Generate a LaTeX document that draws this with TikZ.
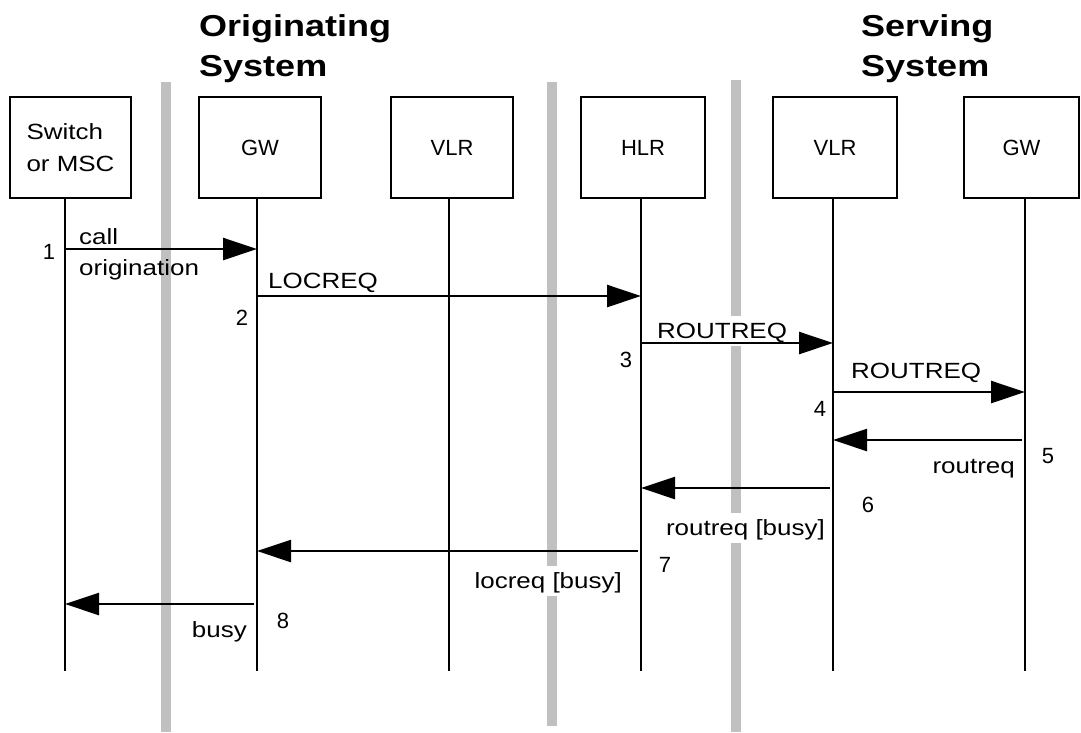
\documentclass[tikz,border=0pt]{standalone}
\usepackage{fontspec}
\usepackage{graphicx}
\setmainfont{Liberation Sans}
\usetikzlibrary{arrows.meta}
\definecolor{sepgray}{RGB}{192,192,192}
% message texts are set slightly wide
\newcommand{\wide}[1]{\scalebox{1.18}[1]{#1}}
\newcommand{\tall}[1]{\scalebox{1}[0.84]{#1}}

\begin{document}
\begin{tikzpicture}[x=1pt,y=-1pt,
  lbl/.style={inner sep=0pt, font=\fontsize{22}{26}\selectfont},
  entity/.style={draw, line width=2.5pt, minimum height=101pt, inner sep=0pt,
                 align=left, font=\fontsize{22}{32}\selectfont},
  life/.style={line width=2.5pt},
  sepbar/.style={line width=10pt, draw=sepgray},
  msg/.style={line width=2.5pt, -{Triangle[length=34pt,width=22pt]}},
  reply/.style={msg, shorten <=3pt},
  masked/.style={fill=white, inner xsep=4pt, inner ysep=4pt, text height=18pt, text depth=4pt},
  heading/.style={inner sep=0pt, anchor=base west, font=\fontsize{36}{40}\selectfont\bfseries}]

\useasboundingbox (0,0) rectangle (1081,732);

% system separators
\coordinate (s1t) at (166,82);  \coordinate (s1b) at (166,732);
\coordinate (s2t) at (552,82);  \coordinate (s2b) at (552,726);
\coordinate (s3t) at (736,80);  \coordinate (s3b) at (736,732);
\draw[sepbar] (s1t) -- (s1b);
\draw[sepbar] (s2t) -- (s2b);
\draw[sepbar] (s3t) -- (s3b);

% headings
\node[heading] (orig1) at (199,36) {\tall{Originating}};
\node[heading] (orig2) at (199,76) {\tall{System}};
\node[heading] (serv1) at (861,36) {\tall{Serving}};
\node[heading] (serv2) at (861,76) {\tall{System}};

% network entities
\node[entity, minimum width=121pt] (msc)  at (70.5,147.5) {\wide{Switch}\\\wide{or MSC}};
\node[entity, minimum width=122pt] (gwo)  at (260,147.5) {GW};
\node[entity, minimum width=122pt] (vlro) at (452,147.5) {VLR};
\node[entity, minimum width=124pt] (hlr)  at (643,147.5) {HLR};
\node[entity, minimum width=124pt] (vlrs) at (835,147.5) {VLR};
\node[entity, minimum width=115pt] (gws)  at (1021.5,147.5) {GW};

% lifelines
\coordinate (L1) at (65,198);   \coordinate (E1) at (65,671);
\coordinate (L2) at (257,198);  \coordinate (E2) at (257,671);
\coordinate (L3) at (449,198);  \coordinate (E3) at (449,671);
\coordinate (L4) at (641,198);  \coordinate (E4) at (641,671);
\coordinate (L5) at (833,198);  \coordinate (E5) at (833,671);
\coordinate (L6) at (1025,198); \coordinate (E6) at (1025,671);

% message labels (those crossing a separator blank it out)
\node[lbl, anchor=base west] (t1a) at (79,244) {\wide{call}};
\node[lbl, anchor=base west] (t1b) at (79,275) {\wide{origination}};
\node[lbl, anchor=base west] (t2) at (268,288) {\wide{LOCREQ}};
\node[lbl, masked, anchor=base west] (t3) at (653,338) {\wide{ROUTREQ}};
\node[lbl, anchor=base west] (t4) at (851,378) {\wide{ROUTREQ}};
\node[lbl, anchor=base east] (t5) at (1015,473) {\wide{routreq}};
\node[lbl, masked, anchor=base east] (t6) at (829,535) {\wide{routreq [busy]}};
\node[lbl, masked, anchor=base east] (t7) at (626,588) {\wide{locreq [busy]}};
\node[lbl, anchor=base east] (t8) at (247,637) {\wide{busy}};

% step numbers
\node[lbl, anchor=base] (n1) at (49,259) {1};
\node[lbl, anchor=base] (n2) at (242,325) {2};
\node[lbl, anchor=base] (n3) at (626,367) {3};
\node[lbl, anchor=base] (n4) at (820,416) {4};
\node[lbl, anchor=base] (n5) at (1048,463) {5};
\node[lbl, anchor=base] (n6) at (868,512) {6};
\node[lbl, anchor=base] (n7) at (665,572) {7};
\node[lbl, anchor=base] (n8) at (283,628) {8};

\foreach \i in {1,...,6} \draw[life] (L\i) -- (E\i);

% message levels
\coordinate (m1) at (0,249);
\coordinate (m2) at (0,296);
\coordinate (m3) at (0,343);
\coordinate (m4) at (0,392);
\coordinate (m5) at (0,440);
\coordinate (m6) at (0,488);
\coordinate (m7) at (0,551);
\coordinate (m8) at (0,604);

\draw[msg]   (L1 |- m1) -- (L2 |- m1);
\draw[msg]   (L2 |- m2) -- (L4 |- m2);
\draw[msg]   (L4 |- m3) -- (L5 |- m3);
\draw[msg]   (L5 |- m4) -- (L6 |- m4);
\draw[reply] (L6 |- m5) -- (L5 |- m5);
\draw[reply] (L5 |- m6) -- (L4 |- m6);
\draw[reply] (L4 |- m7) -- (L2 |- m7);
\draw[reply] (L2 |- m8) -- (L1 |- m8);

\end{tikzpicture}
\end{document}
